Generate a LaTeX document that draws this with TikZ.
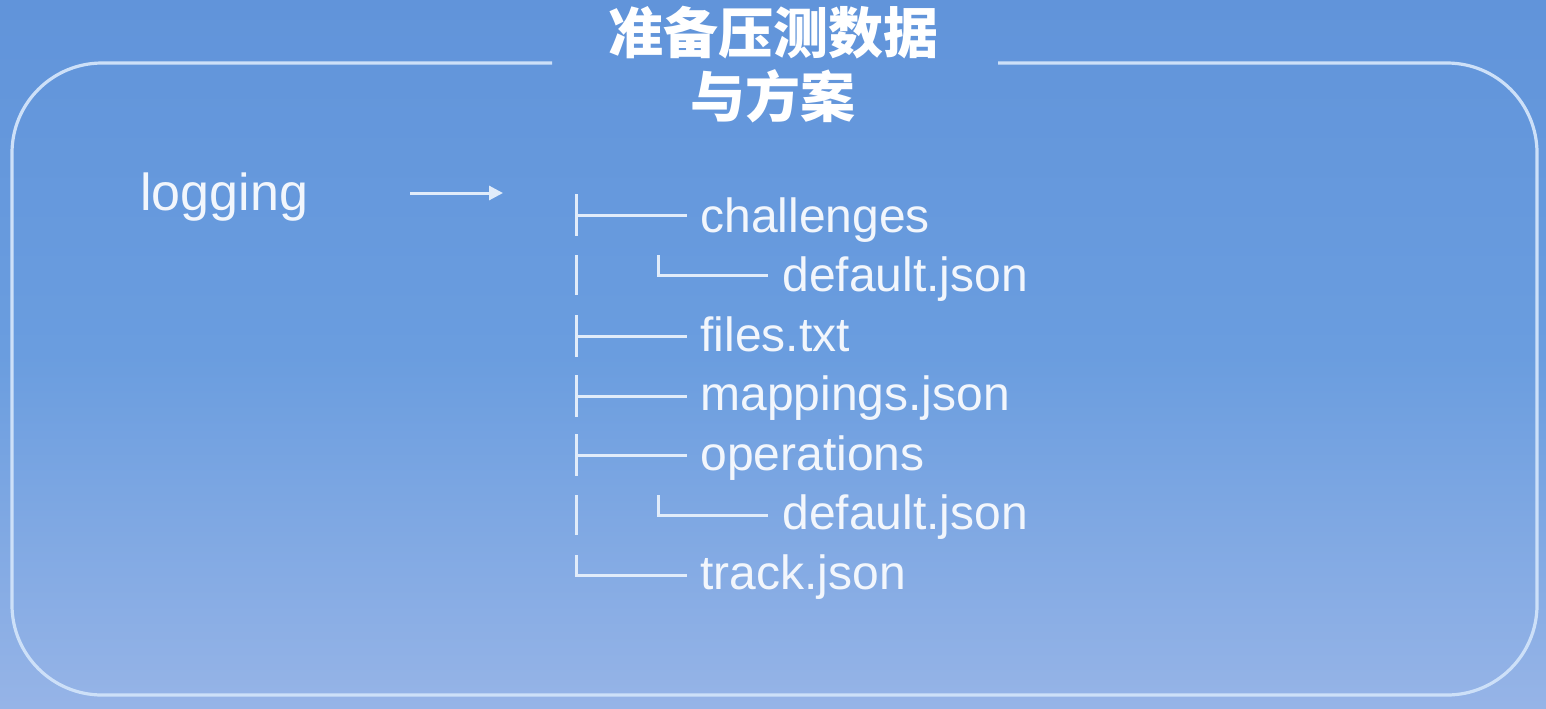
\documentclass[tikz,border=0pt]{standalone}
\usepackage{fontspec}
\setmainfont{Liberation Sans}
\newfontfamily\cjk{Noto Sans CJK SC}
\usetikzlibrary{arrows.meta}
\definecolor{bgtop}{RGB}{97,148,218}
\definecolor{bgmid}{RGB}{106,157,223}
\definecolor{bgbot}{RGB}{150,180,231}
\definecolor{framecol}{RGB}{205,224,248}
\definecolor{txtcol}{RGB}{242,246,252}
\definecolor{treecol}{RGB}{225,236,250}
\begin{document}
\begin{tikzpicture}[x=0.5pt,y=-0.5pt,
  treeline/.style={draw=treecol,line width=1.5pt},
  itemtext/.style={anchor=base west,inner sep=0pt,text=txtcol,font=\fontsize{24}{28}\selectfont},
  frameline/.style={draw=framecol,line width=1.6pt,rounded corners=45pt},
  titletext/.style={text=white,font=\cjk\bfseries\fontsize{27.5}{32}\selectfont,align=center,inner sep=0pt}]
% background
\shade[top color=bgtop,bottom color=bgbot,middle color=bgmid] (0,0) rectangle (1546,708);
\useasboundingbox (0,0) rectangle (1546,708);
% frame
\draw[frameline] (552,63) -- (12,63) -- (12,695) -- (1537,695) -- (1537,63) -- (998,63);
% title
\node[titletext] (title) at (773,65) {准备压测数据\\与方案};
% logging + arrow
\node[itemtext,font=\fontsize{26}{30}\selectfont] (logging) at (140,210) {logging};
\coordinate (arrS) at (410,193);
\coordinate (arrE) at (503,193);
\draw[treecol,line width=1.5pt,-{Triangle[length=7pt,width=7pt]}] (arrS) -- (arrE);
% tree items
\node[itemtext] (n1) at (700,232) {challenges};
\node[itemtext] (n2) at (782,291.5) {default.json};
\node[itemtext] (n3) at (700,351) {files.txt};
\node[itemtext] (n4) at (700,410.5) {mappings.json};
\node[itemtext] (n5) at (700,470) {operations};
\node[itemtext] (n6) at (782,529.5) {default.json};
\node[itemtext] (n7) at (700,589) {track.json};
% tree lines
\foreach \c in {215,336,396,455} {
  \draw[treeline] (576,\c-21) -- (576,\c+21);
  \draw[treeline] (576,\c) -- (687,\c);
}
\foreach \c in {275,515} {
  \draw[treeline] (576,\c-20) -- (576,\c+20);
  \draw[treeline] (658,\c-20) -- (658,\c) -- (768,\c);
}
\draw[treeline] (576,555) -- (576,575) -- (687,575);
\end{tikzpicture}
\end{document}
